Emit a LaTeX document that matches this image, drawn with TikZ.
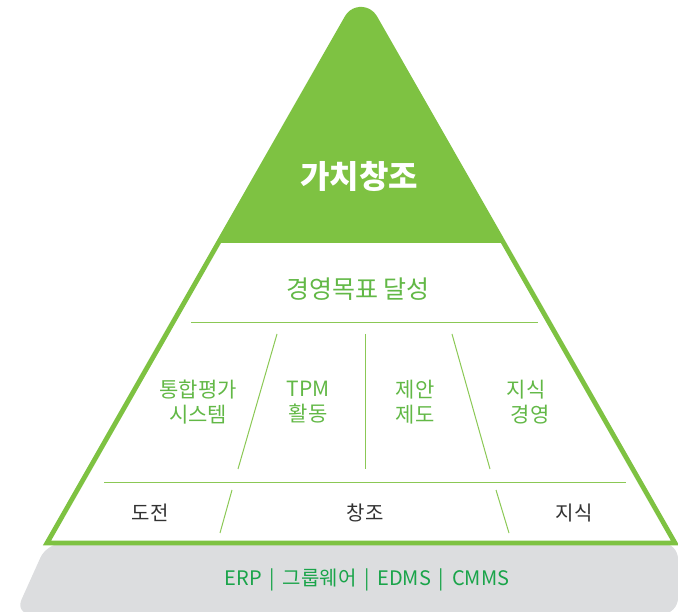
\documentclass[tikz,border=0pt]{standalone}
\usepackage{fontspec}
\setmainfont{Noto Sans CJK KR}
\definecolor{leaf}{RGB}{126,194,66}
\definecolor{leaftext}{RGB}{98,184,70}
\definecolor{erpgreen}{RGB}{26,164,74}
\definecolor{platform}{RGB}{220,221,223}
\definecolor{darktext}{RGB}{50,50,50}

\begin{document}
\begin{tikzpicture}[x=1pt,y=-1pt,
    rim/.style={draw=leaf,line width=4.8pt,line join=miter},
    divider/.style={draw=leaf!90,line width=1pt},
    midtext/.style={text=leaftext,font=\fontsize{21}{25}\selectfont,align=center},
    lowtext/.style={text=darktext,font=\fontsize{20}{24}\selectfont}]
  \useasboundingbox (0,0) rectangle (678,612);

  % grey platform under the pyramid
  \fill[platform,rounded corners=16pt] (47,543) -- (15,614) -- (678,614) -- (678,543) -- cycle;

  % green top and outline
  \fill[leaf] (218,243) -- (347.1,17.3) arc[start angle=210,end angle=330,radius=16] -- (504,243) -- cycle;
  \draw[rim] (347.1,17.3) arc[start angle=210,end angle=330,radius=16]
    -- (675,543) -- (47,543) -- cycle;

  % inner dividers
  \coordinate (r1l) at (191,323);  \coordinate (r1r) at (538,323);
  \coordinate (r2l) at (104,482);  \coordinate (r2r) at (626,482);
  \draw[divider] (r1l) -- (r1r);
  \draw[divider] (r2l) -- (r2r);
  \draw[divider] (277,334) -- (238,469);
  \draw[divider] (365,334) -- (365,469);
  \draw[divider] (452,334) -- (490,469);
  \draw[divider] (232,490) -- (220,533);
  \draw[divider] (496,490) -- (509,533);

  \node[text=white,font=\fontsize{32}{36}\selectfont\bfseries] (top) at (359,177) {가치창조};
  \node[text=leaftext,font=\fontsize{25}{30}\selectfont] (goal) at (358,289) {경영목표 달성};

  \node[midtext] (eval) at (198,402) {통합평가\\시스템};
  \node[midtext] (tpm)  at (308,402) {TPM\\활동};
  \node[midtext] (idea) at (415,402) {제안\\제도};
  \node[midtext] (know) at (526,402) {지식\\\hspace*{8pt}경영};

  \node[lowtext] (chal)  at (150,513) {도전};
  \node[lowtext] (crea)  at (365,513) {창조};
  \node[lowtext] (wisdom) at (574,513) {지식};

  \node[text=erpgreen,font=\fontsize{20}{24}\selectfont] (tools) at (367,580)
    {ERP \,|\, 그룹웨어 \,|\, EDMS \,|\, CMMS};
\end{tikzpicture}
\end{document}
